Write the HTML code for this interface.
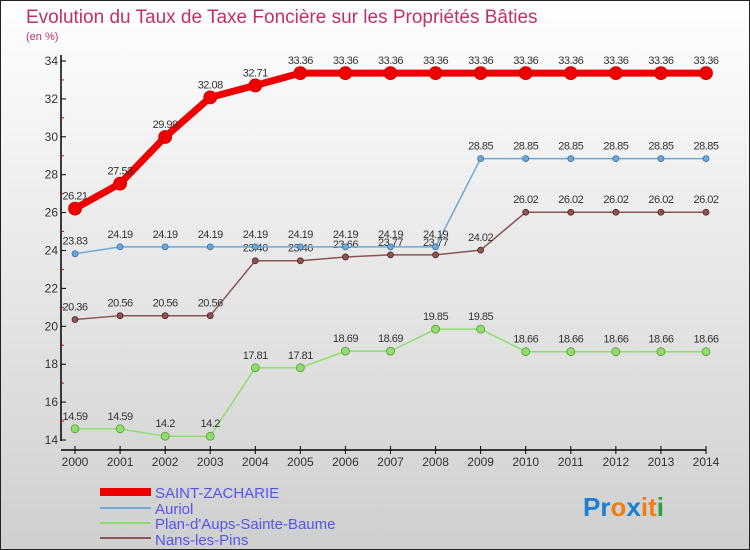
<!DOCTYPE html>
<html><head><meta charset="utf-8"><style>
body{margin:0;width:750px;height:550px;overflow:hidden}
svg{display:block;font-family:"Liberation Sans",sans-serif}
</style></head><body>
<svg id="c" width="750" height="550" viewBox="0 0 750 550">
<defs><linearGradient id="bg" x1="0" y1="0" x2="0" y2="1"><stop offset="0" stop-color="#ffffff"/><stop offset="1" stop-color="#cfcfcf"/></linearGradient></defs>
<rect x="0.5" y="0.5" width="749" height="549" fill="url(#bg)" stroke="#222"/>
<text x="26" y="23" font-size="19" fill="#c0306a">Evolution du Taux de Taxe Foncière sur les Propriétés Bâties</text>
<text x="26" y="40" font-size="11" fill="#c0306a">(en %)</text>
<g id="axes"></g><g id="series"></g>
<g>
<line x1="100" y1="492" x2="151" y2="492" stroke="#ee0000" stroke-width="8"/>
<text x="155" y="498" font-size="15" fill="#5555ee">SAINT-ZACHARIE</text>
<line x1="100" y1="508" x2="151" y2="508" stroke="#6fa8d6" stroke-width="2"/>
<text x="155" y="514" font-size="15" fill="#5555ee">Auriol</text>
<line x1="100" y1="523" x2="151" y2="523" stroke="#90dd6f" stroke-width="2"/>
<text x="155" y="529" font-size="15" fill="#5555ee">Plan-d'Aups-Sainte-Baume</text>
<line x1="100" y1="538" x2="151" y2="538" stroke="#8a5555" stroke-width="2"/>
<text x="155" y="545" font-size="15" fill="#5555ee">Nans-les-Pins</text>
</g>
<text x="583" y="516" font-size="26" font-weight="bold"><tspan fill="#1a7fd6">Pr</tspan><tspan fill="#f07e10">o</tspan><tspan fill="#1a7fd6">x</tspan><tspan fill="#f07e10">i</tspan><tspan fill="#f07e10">t</tspan><tspan fill="#2aa040">i</tspan></text>
</svg>
<script>
const years=[2000,2001,2002,2003,2004,2005,2006,2007,2008,2009,2010,2011,2012,2013,2014];
const yTicks=[14,16,18,20,22,24,26,28,30,32,34];
const saint=[26.21,27.53,29.99,32.08,32.71,33.36,33.36,33.36,33.36,33.36,33.36,33.36,33.36,33.36,33.36];
const auriol=[23.83,24.19,24.19,24.19,24.19,24.19,24.19,24.19,24.19,28.85,28.85,28.85,28.85,28.85,28.85];
const plan=[14.59,14.59,14.2,14.2,17.81,17.81,18.69,18.69,19.85,19.85,18.66,18.66,18.66,18.66,18.66];
const nans=[20.36,20.56,20.56,20.56,23.46,23.46,23.66,23.77,23.77,24.02,26.02,26.02,26.02,26.02,26.02];
const NS="http://www.w3.org/2000/svg";
const X=i=>75+i*(631/14);
const Y=v=>440-(v-14)*18.95;
function mk(t,a,p){const e=document.createElementNS(NS,t);for(const k in a)e.setAttribute(k,a[k]);p.appendChild(e);return e;}
const ax=document.getElementById('axes');
const ya=mk('line',{x1:61,y1:55,x2:61,y2:441,stroke:'#000','stroke-width':1.5},ax);


const xa=mk('line',{x1:61,y1:450,x2:706,y2:450,stroke:'#000','stroke-width':1.5},ax);


yTicks.forEach(v=>{
 mk('line',{x1:61,y1:Y(v),x2:66,y2:Y(v),stroke:'#000'},ax);
 if(v<34)mk('line',{x1:61,y1:Y(v+1),x2:64,y2:Y(v+1),stroke:'#d00'},ax);
 const t=mk('text',{x:58,y:Y(v)+4,'font-size':12,fill:'#333','text-anchor':'end'},ax);t.textContent=v;
 
 
});
years.forEach((y,i)=>{
 mk('line',{x1:X(i),y1:446,x2:X(i),y2:454,stroke:'#000'},ax);
 const t=mk('text',{x:X(i),y:466,'font-size':12,fill:'#333','text-anchor':'middle'},ax);t.textContent=y;
 
 
});
const sg=document.getElementById('series');
function series(d,name,col,w,r,lc){
 const g=mk('g',{},sg);
 
 
 mk('polyline',{points:d.map((v,i)=>X(i)+','+Y(v)).join(' '),fill:'none',stroke:col,'stroke-width':w,'stroke-linejoin':'round'},g);
 d.forEach((v,i)=>{
  const c=mk('circle',{cx:X(i),cy:Y(v),r:r,fill:col,stroke:lc,'stroke-width':0.8},g);
  
  
  const t=mk('text',{x:X(i),y:Y(v)-9,'font-size':11,fill:'#333','text-anchor':'middle','letter-spacing':'-0.5'},g);
  t.textContent=String(v).replace('.','.');
  
  
 });
}
series(plan,'plan','#90dd6f',1.5,4,'#5a9a30');
series(nans,'nans','#8a5555',1.5,3,'#5a2020');
series(auriol,'auriol','#6fa8d6',1.5,3,'#2a70b0');
series(saint,'saint-zacharie','#ee0000',7,6.5,'#cc0000');
</script>
</body></html>
